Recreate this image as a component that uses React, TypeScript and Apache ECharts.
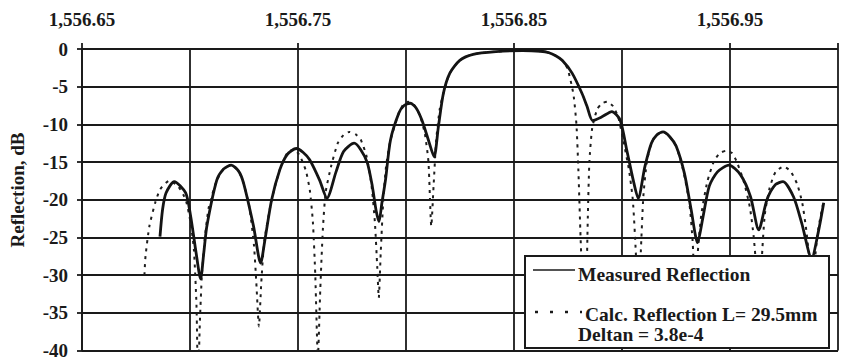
import React, { useEffect, useRef } from "react";
import * as echarts from "echarts";

// Wavelength (nm) / reflection (dB)
const measuredReflection: [number, number][] = [
  [1556.6861, -24.9], [1556.6873, -21.3], [1556.6889, -19.1], [1556.6927, -17.6], [1556.698, -19.1],
  [1556.7003, -22.2], [1556.7028, -27], [1556.7049, -30.5], [1556.7064, -27], [1556.7078, -23.5],
  [1556.7124, -17.4], [1556.7156, -15.9], [1556.7191, -15.4], [1556.7225, -16.2], [1556.7248, -17.8],
  [1556.7294, -23.5], [1556.7327, -28.4], [1556.7347, -25.3], [1556.7378, -20.0], [1556.7416, -16.0],
  [1556.745, -14.0], [1556.7492, -13.2], [1556.7523, -13.7], [1556.7554, -14.7], [1556.76, -17.4],
  [1556.7634, -19.8], [1556.7676, -16.3], [1556.7711, -13.6], [1556.776, -12.5], [1556.7789, -13.3],
  [1556.7821, -15.1], [1556.7844, -18.2], [1556.7862, -21.5], [1556.7875, -22.9], [1556.7888, -20.5],
  [1556.7905, -17.4], [1556.7928, -12.1], [1556.7967, -8.5], [1556.7991, -7.5], [1556.802, -7.2],
  [1556.8046, -7.8], [1556.8073, -9.4], [1556.8104, -12.1], [1556.813, -14.3], [1556.815, -10.3],
  [1556.8173, -5.9], [1556.8203, -3.2], [1556.8249, -1.5], [1556.8311, -0.7], [1556.8417, -0.35],
  [1556.854, -0.2], [1556.8624, -0.3], [1556.8662, -0.5], [1556.8693, -0.9], [1556.8723, -1.5],
  [1556.8769, -3.2], [1556.8815, -5.9], [1556.8838, -7.6], [1556.8864, -9.5], [1556.8907, -9.0],
  [1556.8953, -8.3], [1556.8991, -9.4], [1556.9022, -13.4], [1556.9052, -17.4], [1556.9075, -19.8],
  [1556.9106, -15.6], [1556.9136, -12.5], [1556.9161, -11.4], [1556.919, -11.0], [1556.922, -11.6],
  [1556.9251, -12.9], [1556.9289, -16.5], [1556.932, -21.3], [1556.935, -25.7], [1556.9373, -22.6],
  [1556.9404, -18.2], [1556.9442, -16.3], [1556.9495, -15.4], [1556.9549, -16.7], [1556.9595, -19.6],
  [1556.9633, -24.0], [1556.9671, -20.0], [1556.971, -18.0], [1556.9745, -17.6], [1556.9794, -19.6],
  [1556.9832, -23.1], [1556.9878, -27.8], [1556.9908, -24.4], [1556.9934, -20.4],
];

const calcReflection: [number, number][] = [
  [1556.6789, -30], [1556.6794, -27.5], [1556.6812, -23.5], [1556.6839, -20.4], [1556.6862, -18.6],
  [1556.6904, -17.5], [1556.6945, -18.2], [1556.698, -20.0], [1556.7003, -23.1], [1556.7018, -26.6],
  [1556.703, -34], [1556.7037, -44], [1556.7046, -36], [1556.7055, -30], [1556.7069, -25],
  [1556.7087, -21], [1556.7124, -17.4], [1556.7156, -15.9], [1556.7191, -15.4], [1556.7225, -16.2],
  [1556.7248, -17.8], [1556.7275, -21], [1556.7296, -26], [1556.7307, -31], [1556.7319, -36.8],
  [1556.733, -31], [1556.7344, -25.5], [1556.7378, -20.0], [1556.7416, -16.0], [1556.745, -13.8],
  [1556.7482, -13.3], [1556.7509, -14.2], [1556.7537, -16.2], [1556.7555, -18.8], [1556.7569, -23],
  [1556.758, -30], [1556.7592, -41], [1556.7603, -32], [1556.7615, -24], [1556.7628, -19],
  [1556.7653, -15.6], [1556.7684, -12.5], [1556.7711, -11.4], [1556.7737, -11.0], [1556.7766, -11.3],
  [1556.779, -12.0], [1556.7817, -14.2], [1556.784, -18.0], [1556.7856, -23], [1556.7867, -29],
  [1556.7874, -33], [1556.7883, -27], [1556.7895, -20], [1556.7908, -15.5], [1556.7928, -12.1],
  [1556.7967, -8.5], [1556.7986, -7.4], [1556.8009, -7.0], [1556.8037, -7.4], [1556.8064, -8.8],
  [1556.8087, -11.2], [1556.8104, -15], [1556.8117, -23.5], [1556.8128, -18], [1556.814, -12],
  [1556.8156, -8], [1556.8173, -5.9], [1556.8203, -3.2], [1556.8249, -1.5], [1556.8311, -0.7],
  [1556.8417, -0.35], [1556.854, -0.2], [1556.8624, -0.3], [1556.8662, -0.5], [1556.8693, -0.9],
  [1556.8723, -1.5], [1556.8748, -2.6], [1556.8775, -6], [1556.8789, -10], [1556.8798, -16],
  [1556.8807, -24], [1556.8817, -32], [1556.8826, -42], [1556.8835, -32], [1556.8842, -22],
  [1556.8849, -15], [1556.8862, -10.5], [1556.8885, -8.0], [1556.8908, -7.2], [1556.8931, -7.0],
  [1556.8959, -7.6], [1556.8982, -9.0], [1556.9005, -12], [1556.9032, -16], [1556.905, -20],
  [1556.9064, -27], [1556.9076, -36], [1556.9087, -27], [1556.9099, -19.5], [1556.9115, -15],
  [1556.9136, -12.5], [1556.9161, -11.4], [1556.919, -11.0], [1556.922, -11.6], [1556.9251, -12.9],
  [1556.9284, -16.2], [1556.9312, -20.5], [1556.9328, -26], [1556.934, -36], [1556.9351, -27],
  [1556.9367, -22], [1556.9395, -17.6], [1556.9427, -14.8], [1556.9454, -13.8], [1556.9482, -13.5],
  [1556.9509, -13.8], [1556.9532, -15], [1556.9564, -17.6], [1556.9592, -21], [1556.961, -25],
  [1556.9624, -30], [1556.9635, -36], [1556.9647, -28], [1556.9661, -22], [1556.9683, -18.5],
  [1556.9711, -16.3], [1556.9748, -15.6], [1556.978, -16.2], [1556.9812, -18], [1556.9835, -20.5],
  [1556.9853, -24], [1556.9867, -28], [1556.9879, -36], [1556.989, -29], [1556.9908, -24],
  [1556.9931, -20.5],
];

const xTickValues = [1556.65, 1556.75, 1556.85, 1556.95];
const xTickLabels = ["1,556.65", "1,556.75", "1,556.85", "1,556.95"];

const measuredName = "Measured Reflection";
const calcName = "Calc. Reflection L= 29.5mm";
const calcName2 = "Deltan = 3.8e-4";
const yTitle = "Reflection, dB";

const FONT = '"Liberation Serif", "Times New Roman", serif';
const INK = "#1a1a1a";

export default function App() {
  const ref = useRef<HTMLDivElement>(null);

  useEffect(() => {
    if (!ref.current) return;
    const chart = echarts.init(ref.current, null, { renderer: "svg" });
    const xMin = 1556.65;
    const xMax = 1557.0;
    const labelStyle = { fontFamily: FONT, fontWeight: "bold" as const, fontSize: 19, color: INK };
    const gridLine = { color: INK, width: 1.8 };

    chart.setOption({
      animation: false,
      backgroundColor: "#ffffff",
      grid: { left: 82, top: 49, width: 763, height: 302 },
      xAxis: [
        {
          type: "value",
          position: "top",
          min: xMin,
          max: xMax,
          interval: 0.05,
          axisLine: { show: false },
          axisTick: { show: false },
          splitLine: { show: true, lineStyle: gridLine },
          axisLabel: {
            ...labelStyle,
            margin: 20,
            formatter: (v: number) => {
              const i = xTickValues.findIndex((t) => Math.abs(t - v) < 1e-6);
              return i >= 0 ? xTickLabels[i] : "";
            },
          },
        },
        {
          type: "value",
          position: "top",
          min: xMin,
          max: xMax,
          interval: 0.1,
          axisLine: { show: false },
          axisTick: { show: true, length: 6, lineStyle: gridLine },
          axisLabel: { show: false },
          splitLine: { show: false },
        },
      ],
      yAxis: {
        type: "value",
        min: -40,
        max: 0,
        interval: 5,
        axisLine: { show: true, lineStyle: gridLine },
        axisTick: { show: true, length: 5, lineStyle: gridLine },
        splitLine: { show: true, lineStyle: gridLine },
        axisLabel: { ...labelStyle, margin: 14 },
      },
      series: [
        {
          name: calcName,
          type: "line",
          data: calcReflection,
          showSymbol: false,
          smooth: 0.2,
          z: 2,
          lineStyle: { color: "#1e1e1e", width: 2, type: [3, 5] },
        },
        {
          name: measuredName,
          type: "line",
          data: measuredReflection,
          showSymbol: false,
          smooth: 0.25,
          z: 3,
          lineStyle: { color: "#141414", width: 2.8 },
        },
      ],
      graphic: [
        {
          type: "text",
          x: 17,
          y: 190,
          rotation: Math.PI / 2,
          style: {
            text: yTitle,
            fontFamily: FONT,
            fontWeight: "bold",
            fontSize: 19,
            fill: INK,
            align: "center",
            verticalAlign: "middle",
          },
        },
        {
          type: "group",
          z: 100,
          children: [
            {
              type: "rect",
              z: 100,
              shape: { x: 525, y: 256, width: 304, height: 92 },
              style: { fill: "#ffffff", stroke: INK, lineWidth: 2 },
            },
            {
              type: "line",
              z: 101,
              shape: { x1: 533, y1: 270, x2: 575, y2: 270 },
              style: { stroke: INK, lineWidth: 1.5 },
            },
            {
              type: "text",
              z: 101,
              x: 578,
              y: 274,
              style: {
                text: measuredName,
                fontFamily: FONT,
                fontWeight: "bold",
                fontSize: 19.5,
                fill: INK,
                verticalAlign: "middle",
              },
            },
            {
              type: "line",
              z: 101,
              shape: { x1: 535, y1: 312, x2: 582, y2: 312 },
              style: { stroke: INK, lineWidth: 2.5, lineDash: [3, 12] },
            },
            {
              type: "text",
              z: 101,
              x: 585,
              y: 314,
              style: {
                text: calcName,
                fontFamily: FONT,
                fontWeight: "bold",
                fontSize: 19.5,
                fill: INK,
                verticalAlign: "middle",
              },
            },
            {
              type: "text",
              z: 101,
              x: 578,
              y: 334,
              style: {
                text: calcName2,
                fontFamily: FONT,
                fontWeight: "bold",
                fontSize: 19.5,
                fill: INK,
                verticalAlign: "middle",
              },
            },
          ],
        },
      ],
    });
    return () => chart.dispose();
  }, []);

  return (
    <div
      ref={ref}
      style={{ position: "absolute", left: 0, top: 0, width: 841, height: 360, background: "#fff" }}
    />
  );
}
